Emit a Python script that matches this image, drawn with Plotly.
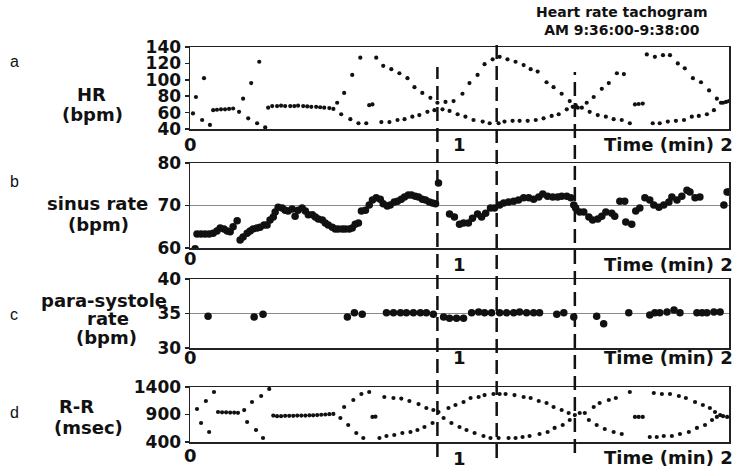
import plotly.graph_objects as go

# ---------------- data ----------------
# a: heart rate tachogram (bpm) vs time (min)
hr_t = [0.011, 0.022, 0.045, 0.052, 0.074,
        0.086, 0.100, 0.115, 0.130, 0.145, 0.160,
        0.182, 0.197, 0.216, 0.227, 0.249, 0.257, 0.279,
        0.290, 0.305, 0.323, 0.338, 0.353, 0.372, 0.387, 0.401,
        0.420, 0.435, 0.450, 0.468, 0.483, 0.498, 0.517, 0.532,
        0.546, 0.561, 0.572, 0.595, 0.602, 0.625, 0.632, 0.654, 0.665, 0.677,
        0.691, 0.710, 0.717, 0.740, 0.747, 0.770, 0.777, 0.796, 0.807, 0.825,
        0.833, 0.851, 0.862, 0.881, 0.892, 0.907, 0.918, 0.937, 0.948, 0.963,
        0.978, 0.993, 1.011, 1.022, 1.037, 1.052, 1.067, 1.086, 1.093, 1.112,
        1.123, 1.145, 1.149, 1.167, 1.178, 1.197, 1.208, 1.223, 1.238, 1.253,
        1.264, 1.283, 1.290, 1.312, 1.323, 1.342, 1.349, 1.368, 1.379, 1.398,
        1.409, 1.420, 1.431, 1.439, 1.454, 1.472, 1.483, 1.498, 1.513, 1.528,
        1.543, 1.554, 1.572, 1.584, 1.602, 1.610, 1.632, 1.651, 1.665, 1.680,
        1.695, 1.717, 1.725, 1.743, 1.755, 1.773, 1.781, 1.803, 1.810, 1.833,
        1.836, 1.862, 1.866, 1.888, 1.896, 1.918, 1.926, 1.944, 1.955, 1.970,
        1.978, 1.989, 2.000]
hr_bpm = [59, 79, 51, 102, 45,
          63, 63.5, 64, 64, 64.5, 65,
          61, 77, 53, 96, 47, 122, 42,
          66, 68, 68, 68.5, 68, 68, 68, 68.5,
          68, 67.5, 67, 67, 66.5, 66, 65.5, 64.5,
          72, 58, 84, 52, 106, 47, 127, 47, 69, 70,
          127, 48.5, 117, 48.5, 113, 51, 108, 52, 102, 55,
          91, 57, 84, 61, 78, 63, 72, 64, 73, 62,
          74, 58, 83, 55, 96, 51, 106, 49, 119, 47,
          125, 47, 128, 49, 125, 50, 122, 50, 118, 50,
          113, 51, 110, 53, 97, 56, 91, 58, 83, 64,
          74, 67, 69, 66, 66, 72, 61, 79, 57, 89,
          55, 96, 52, 108, 51, 107, 47, 70, 70.5, 71,
          131, 47, 128, 47, 130, 49, 130, 50, 120, 51,
          114, 55, 102, 56, 97, 58, 87, 63, 77, 72,
          72, 73, 74]

# b: sinus rate (bpm)
sr_t = [0.019, 0.026, 0.041, 0.056, 0.071, 0.086, 0.100, 0.112, 0.126, 0.138,
        0.149, 0.160, 0.175, 0.186, 0.197, 0.212, 0.223, 0.234, 0.249, 0.260,
        0.275, 0.286, 0.297, 0.309, 0.316, 0.327, 0.342, 0.353, 0.364, 0.379,
        0.390, 0.401, 0.416, 0.428, 0.439, 0.454, 0.465, 0.476, 0.491, 0.502,
        0.513, 0.528, 0.539, 0.550, 0.565, 0.576, 0.591, 0.602, 0.613, 0.625,
        0.636, 0.651, 0.665, 0.677, 0.691, 0.706, 0.717, 0.732, 0.743, 0.758,
        0.770, 0.784, 0.796, 0.810, 0.822, 0.836, 0.848, 0.862, 0.874, 0.888,
        0.900, 0.911, 0.922, 0.963, 0.981, 1.000, 1.015, 1.033, 1.048, 1.067,
        1.082, 1.097, 1.115, 1.130, 1.149, 1.164, 1.182, 1.201, 1.219, 1.238,
        1.257, 1.275, 1.294, 1.309, 1.327, 1.346, 1.364, 1.379, 1.398, 1.413,
        1.424, 1.431, 1.446, 1.461, 1.480, 1.494, 1.513, 1.528, 1.543, 1.565,
        1.576, 1.595, 1.613, 1.617, 1.639, 1.654, 1.669, 1.688, 1.706, 1.721,
        1.740, 1.758, 1.777, 1.788, 1.807, 1.825, 1.844, 1.855, 1.874, 1.892,
        1.981, 1.993, 2.000]
sr_bpm = [59.8, 63.3, 63.3, 63.3, 63.3, 63.5, 64.0, 64.7, 64.5, 64.0,
          63.8, 65.0, 66.4, 61.9, 62.6, 63.5, 64.0, 64.5, 64.7, 64.9,
          65.4, 65.4, 66.6, 67.3, 68.5, 69.6, 69.4, 68.9, 68.7, 69.2,
          67.5, 68.9, 69.4, 68.7, 67.8, 67.8, 67.3, 66.8, 66.6, 65.9,
          65.4, 64.9, 64.5, 64.5, 64.5, 64.5, 64.5, 64.7, 65.6, 65.9,
          68.7, 68.9, 70.1, 71.3, 71.8, 71.5, 70.4, 69.9, 70.1, 70.8,
          71.0, 71.5, 72.0, 72.5, 72.5, 72.2, 72.0, 71.5, 71.3, 70.8,
          70.6, 70.4, 75.3, 68.0, 67.3, 65.6, 65.9, 65.9, 67.0, 68.0,
          67.3, 68.2, 69.4, 69.4, 70.1, 70.6, 70.8, 71.0, 71.3, 71.8,
          71.8, 71.5, 72.0, 72.7, 72.2, 72.0, 72.0, 72.2, 72.2, 71.8,
          70.1, 69.4, 68.5, 68.5, 67.3, 66.6, 66.8, 67.5, 68.5, 68.2,
          67.5, 71.0, 71.0, 66.1, 65.6, 68.7, 69.4, 71.8, 71.3, 70.1,
          69.6, 70.1, 70.8, 72.0, 71.3, 72.2, 73.6, 73.2, 71.8, 72.0,
          70.1, 73.2, 73.2]

# c: para-systole rate (bpm)
ps_t = [0.067, 0.238, 0.271, 0.584, 0.610, 0.639, 0.729, 0.755, 0.781, 0.803,
        0.829, 0.855, 0.877, 0.903, 0.941, 0.963, 0.989, 1.015, 1.045, 1.071,
        1.093, 1.119, 1.149, 1.175, 1.201, 1.223, 1.249, 1.275, 1.297, 1.361,
        1.387, 1.424, 1.509, 1.535, 1.628, 1.706, 1.725, 1.743, 1.770, 1.796,
        1.818, 1.881, 1.900, 1.918, 1.944, 1.967]
ps_bpm = [34.6, 34.5, 34.9, 34.5, 35.1, 34.9, 35.1, 35.1, 35.1, 35.1,
          35.1, 35.1, 35.1, 34.9, 34.5, 34.3, 34.3, 34.3, 35.1, 35.2,
          35.1, 35.1, 35.1, 35.1, 35.1, 35.2, 35.1, 35.1, 35.1, 34.9,
          35.1, 34.5, 34.6, 33.5, 35.1, 34.8, 35.1, 35.1, 35.2, 35.5,
          35.1, 35.1, 35.1, 35.1, 35.2, 35.2]

# d: R-R interval (msec)
rr_t = [0.026, 0.041, 0.059, 0.071, 0.089,
        0.104, 0.119, 0.134, 0.149, 0.164, 0.178,
        0.201, 0.212, 0.230, 0.245, 0.264, 0.271, 0.294,
        0.309, 0.323, 0.338, 0.353, 0.368, 0.383, 0.398, 0.413,
        0.428, 0.443, 0.457, 0.472, 0.487, 0.502, 0.517, 0.532,
        0.558, 0.572, 0.587, 0.606, 0.617, 0.636, 0.643, 0.665, 0.677, 0.688,
        0.703, 0.721, 0.729, 0.755, 0.758, 0.784, 0.788, 0.814, 0.818, 0.844,
        0.848, 0.870, 0.877, 0.900, 0.903, 0.922, 0.941, 0.959, 0.970, 0.985,
        1.000, 1.015, 1.026, 1.041, 1.056, 1.071, 1.089, 1.093, 1.115, 1.126,
        1.145, 1.149, 1.171, 1.182, 1.204, 1.208, 1.234, 1.238, 1.260, 1.264,
        1.294, 1.297, 1.323, 1.327, 1.349, 1.353, 1.379, 1.383, 1.405, 1.409,
        1.428, 1.446, 1.465, 1.480, 1.498, 1.509, 1.520, 1.539, 1.554, 1.572,
        1.580, 1.602, 1.632, 1.651, 1.665, 1.680, 1.706, 1.721, 1.732, 1.751,
        1.758, 1.781, 1.788, 1.814, 1.818, 1.840, 1.851, 1.874, 1.881, 1.903,
        1.911, 1.929, 1.937, 1.948, 1.955, 1.967, 1.978, 1.993]
rr_ms = [1000, 745, 1145, 582, 1309,
         945, 940, 940, 935, 935, 930,
         980, 764, 1127, 618, 1236, 473, 1364,
         880, 870, 870, 875, 875, 875, 880, 880,
         880, 885, 885, 890, 895, 900, 905, 910,
         836, 1036, 709, 1164, 564, 1273, 473, 1309, 855, 860,
         473, 1218, 509, 1200, 527, 1190, 564, 1145, 582, 618,
         1090, 673, 1018, 745, 982, 945, 836, 1018, 745, 1073,
         673, 1127, 618, 1200, 564, 1218, 509, 1254, 473, 1273,
         473, 1273, 1273, 473, 1254, 473, 491, 1218, 509, 1200,
         1145, 545, 1109, 582, 1036, 655, 982, 709, 927, 800,
         890, 927, 927, 800, 1036, 709, 1109, 636, 1164, 582,
         1200, 545, 1309, 855, 855, 855, 491, 1291, 491, 1273,
         509, 1273, 509, 1236, 545, 1200, 582, 1127, 655, 1073,
         709, 1018, 800, 945, 855, 890, 870, 855]

event_times = [0.918, 1.138, 1.428]   # dashed vertical markers (min)

x_tick_labels = ["0", "1"]
x_tick_pos = [0, 1]
x_title = "Time (min) 2"
hr_ticks = [40, 60, 80, 100, 120, 140]
sr_ticks = [60, 70, 80]
ps_ticks = [30, 35, 40]
rr_ticks = [400, 900, 1400]

# ---------------- figure ----------------
W, H = 736, 472
FONT = "DejaVu Sans"
INK = "#111111"

def px_x(p):
    return p / W

def px_y(p):
    return 1 - p / H

x_dom = [px_x(190), px_x(729)]
panels = [
    # (top px, bottom px, ticks, range, grid, label rows: "0", "1", title)
    (47, 129, hr_ticks, [40, 140], False, (145, 145, 145)),
    (163, 248, sr_ticks, [60, 80], True, (258, 264, 264)),
    (279, 348, ps_ticks, [30, 40], True, (357, 357, 357)),
    (387, 442, rr_ticks, [400, 1400], False, (455, 458, 457)),
]

fig = go.Figure()
series = [(hr_t, hr_bpm, 4.2), (sr_t, sr_bpm, 7.5), (ps_t, ps_bpm, 7.5), (rr_t, rr_ms, 4.2)]
for i, (xs, ys, ms) in enumerate(series):
    sfx = "" if i == 0 else str(i + 1)
    fig.add_trace(go.Scatter(x=xs, y=ys, mode="markers", xaxis="x" + sfx, yaxis="y" + sfx,
                             marker=dict(color=INK, size=ms, line=dict(width=0)),
                             showlegend=False, hoverinfo="skip"))

layout = dict(width=W, height=H, autosize=False, margin=dict(l=0, r=0, t=0, b=0, pad=0),
              paper_bgcolor="white", plot_bgcolor="white", showlegend=False)
for i, (top, bot, ticks, rng, grid, _) in enumerate(panels):
    sfx = "" if i == 0 else str(i + 1)
    layout["xaxis" + sfx] = dict(domain=x_dom, range=[0, 2], anchor="y" + sfx,
                                 automargin=False, showticklabels=False, ticks="",
                                 showline=True, linecolor="#222", linewidth=1.5, mirror=True,
                                 showgrid=False, zeroline=False, fixedrange=True)
    layout["yaxis" + sfx] = dict(domain=[px_y(bot), px_y(top)], range=rng, anchor="x" + sfx,
                                 automargin=False,
                                 tickvals=ticks, ticks="outside", ticklen=4, tickwidth=1.5,
                                 tickcolor="#222",
                                 tickfont=dict(family=FONT, size=17, color=INK, weight="bold"),
                                 showline=True, linecolor="#222", linewidth=1.5, mirror=True,
                                 showgrid=grid, gridcolor="#8a8a8a", gridwidth=1,
                                 zeroline=False, fixedrange=True)

# dashed event lines spanning the panels
spans = [(67, 457), (42, 458), (72, 453)]
shapes = []
for t, (y0, y1) in zip(event_times, spans):
    shapes.append(dict(type="line", xref="x", yref="paper", x0=t, x1=t,
                       y0=px_y(y1), y1=px_y(y0),
                       line=dict(color=INK, width=2.5, dash="14px,7px")))
layout["shapes"] = shapes

ann = []
def txt(s, x, y, size=18, bold=True, xanchor="center", xref="paper"):
    ann.append(dict(text=s, x=(px_x(x) if xref == "paper" else x), y=px_y(y),
                    xref=xref, yref="paper",
                    xanchor=xanchor, yanchor="middle", showarrow=False,
                    font=dict(family=FONT if bold else "Liberation Sans", size=size, color=INK,
                              weight="bold" if bold else "normal")))

txt("Heart rate tachogram<br>AM 9:36:00-9:38:00", 622, 21, size=14)
for s, y in [("a", 62), ("b", 181), ("c", 314), ("d", 412)]:
    txt(s, 14, y, size=16, bold=False)
txt("HR", 91, 94); txt("(bpm)", 92, 114)
txt("sinus rate", 97, 204); txt("(bpm)", 99, 225)
txt("para-systole", 104, 300); txt("rate", 108, 318); txt("(bpm)", 106, 337)
txt("R-R", 76, 406); txt("(msec)", 88, 427)
for i, p in enumerate(panels):
    rows = p[5]
    xr = "x" if i == 0 else "x" + str(i + 1)
    for lab, pos, yy in zip(x_tick_labels, x_tick_pos, rows[:2]):
        txt(lab, pos, yy, xref=xr)
    txt(x_title, 735, rows[2], xanchor="right")
layout["annotations"] = ann

fig.update_layout(**layout)
fig.write_html("out.html",
               config={"displayModeBar": False, "staticPlot": True},
               post_script="document.body.style.margin='0';document.body.style.overflow='hidden';")
